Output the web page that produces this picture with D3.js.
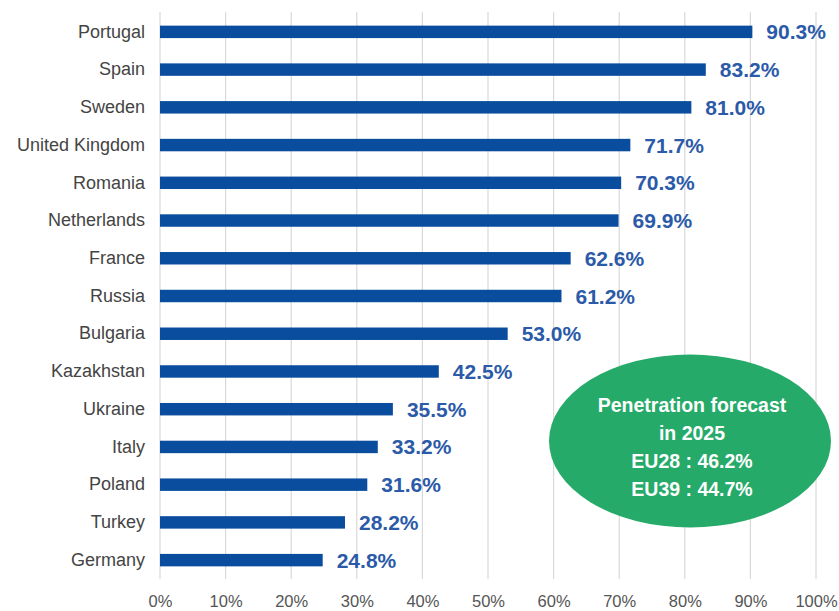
<!DOCTYPE html>
<html>
<head>
<meta charset="utf-8">
<script src="https://cdn.jsdelivr.net/npm/d3@7"></script>
<style>
  body { margin: 0; background: #fff; }
  svg { display: block; font-family: Arial, "Liberation Sans", sans-serif; }
</style>
</head>
<body>
<svg id="chart" width="839" height="611"></svg>
<script>
// data
const countries = ["Portugal", "Spain", "Sweden", "United Kingdom", "Romania", "Netherlands",
  "France", "Russia", "Bulgaria", "Kazakhstan", "Ukraine", "Italy", "Poland", "Turkey", "Germany"];
const penetration = [90.3, 83.2, 81.0, 71.7, 70.3, 69.9, 62.6, 61.2, 53.0, 42.5, 35.5, 33.2, 31.6, 28.2, 24.8];
const xTicks = [0, 10, 20, 30, 40, 50, 60, 70, 80, 90, 100];
const forecastLines = ["Penetration forecast", "in 2025", "EU28 : 46.2%", "EU39 : 44.7%"];

const svg = d3.select("#chart");
const margin = {top: 13, right: 23, bottom: 32, left: 160};
const W = 839, H = 611;

const x = d3.scaleLinear().domain([0, 100]).range([margin.left, W - margin.right]);
const y = d3.scaleBand().domain(countries).range([margin.top, H - margin.bottom]).paddingInner(0.67).paddingOuter(0.335);

// gridlines
svg.append("g")
  .selectAll("line")
  .data(xTicks)
  .join("line")
  .attr("x1", d => x(d)).attr("x2", d => x(d))
  .attr("y1", 12).attr("y2", H - margin.bottom)
  .attr("stroke", "#d9d9d9")
  .attr("stroke-width", 1.2);

// x axis labels
const xAxis = svg.append("g")
  .attr("transform", `translate(0,${H - margin.bottom})`)
  .call(d3.axisBottom(x).tickValues(xTicks).tickFormat(d => d + "%").tickSize(0).tickPadding(16));
xAxis.select(".domain").remove();
xAxis.selectAll("text")
  .attr("font-size", 16.5)
  .attr("fill", "#555")
  .attr("font-family", "Arial, 'Liberation Sans', sans-serif");

// country labels
const yAxis = svg.append("g")
  .attr("transform", `translate(${margin.left},0)`)
  .call(d3.axisLeft(y).tickSize(0).tickPadding(15));
yAxis.select(".domain").remove();
yAxis.selectAll("text")
  .attr("font-size", 18)
  .attr("fill", "#444")
  .attr("font-family", "Arial, 'Liberation Sans', sans-serif");

// bars
svg.append("g")
  .selectAll("rect")
  .data(countries)
  .join("rect")
  .attr("x", x(0))
  .attr("y", (d) => y(d))
  .attr("width", (d, i) => x(penetration[i]) - x(0))
  .attr("height", y.bandwidth())
  .attr("fill", "#0a4d9e");

// value labels
svg.append("g")
  .selectAll("text")
  .data(countries)
  .join("text")
  .attr("x", (d, i) => x(penetration[i]) + 14)
  .attr("y", d => y(d) + y.bandwidth() / 2)
  .attr("dy", "0.36em")
  .attr("font-size", 21)
  .attr("font-weight", "bold")
  .attr("fill", "#2b5aa8")
  .text((d, i) => penetration[i].toFixed(1) + "%");

// forecast bubble
const bubble = svg.append("g").attr("transform", "translate(690,441)");
bubble.append("ellipse")
  .attr("rx", 141).attr("ry", 86.5)
  .attr("fill", "#26aa69");
bubble.append("g")
  .selectAll("text")
  .data(forecastLines)
  .join("text")
  .attr("x", 2)
  .attr("y", (d, i) => -36 + i * 28)
  .attr("dy", "0.36em")
  .attr("text-anchor", "middle")
  .attr("font-size", 19.5)
  .attr("font-weight", "bold")
  .attr("fill", "#fff")
  .text(d => d);
</script>
</body>
</html>
